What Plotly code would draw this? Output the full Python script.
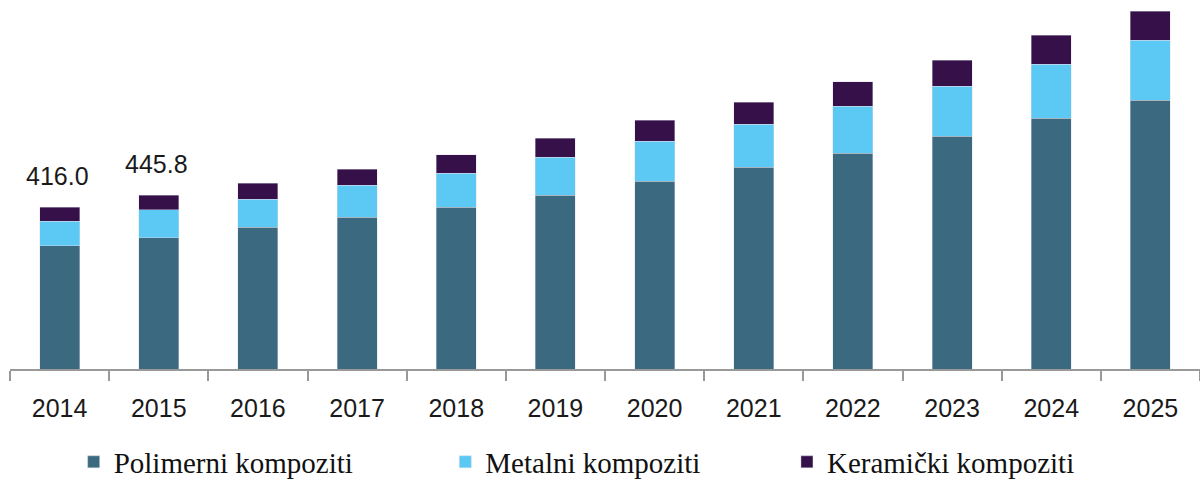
import plotly.graph_objects as go

years = ["2014", "2015", "2016", "2017", "2018", "2019", "2020", "2021", "2022", "2023", "2024", "2025"]
polimerni = [316.6, 337.0, 363.6, 390.3, 416.0, 446.8, 482.8, 518.7, 554.7, 597.3, 643.5, 690.8]
metalni = [62.4, 71.9, 71.9, 82.2, 87.3, 97.6, 102.7, 109.4, 119.7, 128.4, 139.7, 154.1]
keramicki = [37.0, 36.9, 42.1, 41.1, 47.0, 47.8, 52.9, 56.5, 62.7, 67.8, 73.4, 73.4]
label_years = ["2014", "2015"]

series_names = ["Polimerni kompoziti", "Metalni kompoziti", "Keramički kompoziti"]
colors = ["#3B6A80", "#5CC9F5", "#361048"]

fig = go.Figure()
for i, (name, vals, col) in enumerate(zip(series_names, [polimerni, metalni, keramicki], colors)):
    fig.add_trace(go.Bar(
        x=years, y=vals, name=name,
        marker=dict(color=col, line=dict(color="rgba(220,220,230,0.7)", width=0.6)),
        legend="legend" if i == 0 else f"legend{i+1}",
    ))

totals = [p + m + k for p, m, k in zip(polimerni, metalni, keramicki)]
for yr in label_years:
    idx = years.index(yr)
    fig.add_annotation(
        x=idx, y=totals[idx], text=f"{totals[idx]:.1f}", showarrow=False,
        xref="x", yref="y",
        yanchor="middle", yshift=31, xshift=-2,
        font=dict(family="Liberation Sans, Arial", size=25, color="#1a1a1a"),
    )

leg_font = dict(family="Liberation Serif, Times New Roman", size=29, color="#111111")
leg_common = dict(orientation="h", yanchor="middle", y=-0.259, xanchor="left",
                  font=leg_font, bgcolor="rgba(0,0,0,0)", borderwidth=0)

fig.update_layout(
    width=1200, height=482,
    margin=dict(l=10, r=0, t=10, b=113, autoexpand=False),
    barmode="stack", bargap=0.597,
    plot_bgcolor="white", paper_bgcolor="white",
    showlegend=True,
    legend=dict(x=0.0535, **leg_common),
    legend2=dict(x=0.3658, **leg_common),
    legend3=dict(x=0.6529, **leg_common),
    xaxis=dict(
        type="category", range=[-0.5, 11.5],
        showline=True, linecolor="#999999", linewidth=1.5,
        ticks="outside", tickson="boundaries", ticklen=10, tickcolor="#999999", tickwidth=1.5,
        ticklabelstandoff=16,
        tickfont=dict(family="Liberation Sans, Arial", size=25, color="#1a1a1a"),
        showgrid=False,
    ),
    yaxis=dict(range=[0, 922], visible=False, showgrid=False),
)

fig.write_html(
    "out.html",
    config={"displayModeBar": False},
    post_script="document.body.style.margin='0';document.body.style.padding='0';document.body.style.overflow='hidden';",
)
